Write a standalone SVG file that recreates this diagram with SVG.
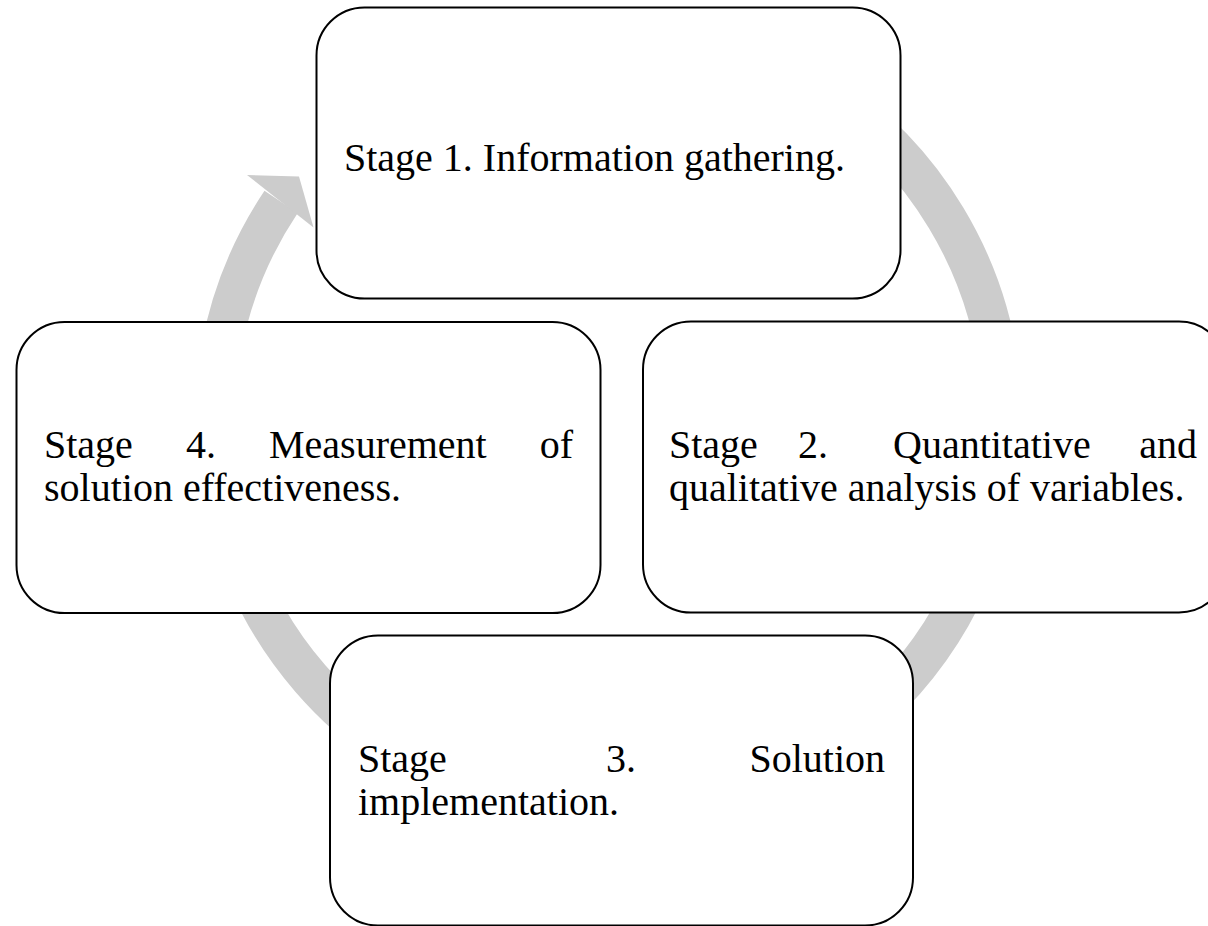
<svg xmlns="http://www.w3.org/2000/svg" width="1208" height="926" viewBox="0 0 1208 926">
<style>
.box{fill:#ffffff;stroke:#000000;stroke-width:2}
.t{font-family:"Liberation Serif","Times New Roman",serif;font-size:40px;fill:#000000}
.e{text-anchor:end}
</style>
<rect width="1208" height="926" fill="#ffffff"/>
<g id="connectors">
<path d="M 676.9 33 A 394 394 0 1 1 281.1 201.9" fill="none" stroke="#cccccc" stroke-width="40"/>
<polygon points="247,175 299,176.5 313.5,227.5" fill="#cccccc"/>
</g>
<g id="stage1">
<rect class="box" x="316.5" y="7.5" width="584" height="291" rx="48" ry="48"/>
<text class="t" x="344" y="171">Stage 1. Information gathering.</text>
</g>
<g id="stage4">
<rect class="box" x="16.5" y="322" width="584" height="291" rx="48" ry="48"/>
<text class="t" x="44" y="458">Stage</text>
<text class="t" x="186" y="458">4.</text>
<text class="t" x="269" y="458">Measurement</text>
<text class="t e" x="573" y="458">of</text>
<text class="t" x="44" y="501">solution effectiveness.</text>
</g>
<g id="stage2">
<rect class="box" x="643" y="321.5" width="584" height="291" rx="48" ry="48"/>
<text class="t" x="669" y="458">Stage</text>
<text class="t" x="798" y="458">2.</text>
<text class="t" x="893" y="458">Quantitative</text>
<text class="t e" x="1197" y="458">and</text>
<text class="t" x="669" y="501">qualitative analysis of variables.</text>
</g>
<g id="stage3">
<rect class="box" x="330" y="635.5" width="583" height="290" rx="48" ry="48"/>
<text class="t" x="358" y="772">Stage</text>
<text class="t" x="606" y="772">3.</text>
<text class="t e" x="885" y="772">Solution</text>
<text class="t" x="358" y="815">implementation.</text>
</g>
</svg>
